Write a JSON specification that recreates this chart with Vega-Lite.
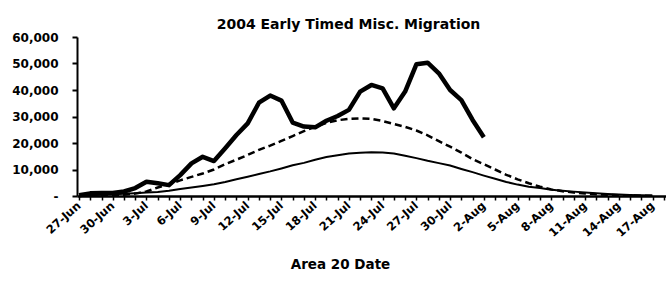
{
  "$schema": "https://vega.github.io/schema/vega-lite/v6.json",
  "width": 589,
  "height": 159,
  "autosize": {"type": "none"},
  "padding": {"left": 77, "top": 37, "right": 0, "bottom": 86},
  "background": "white",
  "config": {"view": {"stroke": null}, "font": "DejaVu Sans", "axis": {"grid": false}},
  "title": {"text": "2004 Early Timed Misc. Migration", "font": "DejaVu Sans", "fontSize": 14, "fontWeight": "bold", "color": "black", "anchor": "middle", "frame": "group", "dx": -23, "dy": 22, "baseline": "alphabetic", "offset": 10},
  "datasets": {
    "actual": [
      {"date": "2004-06-27", "fish": 300}, {"date": "2004-06-28", "fish": 1000}, {"date": "2004-06-29", "fish": 1100}, {"date": "2004-06-30", "fish": 1100},
      {"date": "2004-07-01", "fish": 1700}, {"date": "2004-07-02", "fish": 3000}, {"date": "2004-07-03", "fish": 5400}, {"date": "2004-07-04", "fish": 4800},
      {"date": "2004-07-05", "fish": 4100}, {"date": "2004-07-06", "fish": 7900}, {"date": "2004-07-07", "fish": 12300}, {"date": "2004-07-08", "fish": 14800},
      {"date": "2004-07-09", "fish": 13200}, {"date": "2004-07-10", "fish": 18000}, {"date": "2004-07-11", "fish": 23000}, {"date": "2004-07-12", "fish": 27400},
      {"date": "2004-07-13", "fish": 35200}, {"date": "2004-07-14", "fish": 37900}, {"date": "2004-07-15", "fish": 36000}, {"date": "2004-07-16", "fish": 27700},
      {"date": "2004-07-17", "fish": 26200}, {"date": "2004-07-18", "fish": 25900}, {"date": "2004-07-19", "fish": 28400}, {"date": "2004-07-20", "fish": 30200},
      {"date": "2004-07-21", "fish": 32500}, {"date": "2004-07-22", "fish": 39400}, {"date": "2004-07-23", "fish": 41900}, {"date": "2004-07-24", "fish": 40600},
      {"date": "2004-07-25", "fish": 33100}, {"date": "2004-07-26", "fish": 39400}, {"date": "2004-07-27", "fish": 49700}, {"date": "2004-07-28", "fish": 50300},
      {"date": "2004-07-29", "fish": 46300}, {"date": "2004-07-30", "fish": 40000}, {"date": "2004-07-31", "fish": 36200}, {"date": "2004-08-01", "fish": 28700},
      {"date": "2004-08-02", "fish": 22200}
    ],
    "expected": [
      {"date": "2004-06-27", "fish": 50}, {"date": "2004-06-28", "fish": 100}, {"date": "2004-06-29", "fish": 200}, {"date": "2004-06-30", "fish": 300},
      {"date": "2004-07-01", "fish": 500}, {"date": "2004-07-02", "fish": 900}, {"date": "2004-07-03", "fish": 1700}, {"date": "2004-07-04", "fish": 3200},
      {"date": "2004-07-05", "fish": 4500}, {"date": "2004-07-06", "fish": 5900}, {"date": "2004-07-07", "fish": 7200}, {"date": "2004-07-08", "fish": 8500},
      {"date": "2004-07-09", "fish": 10000}, {"date": "2004-07-10", "fish": 12000}, {"date": "2004-07-11", "fish": 13700}, {"date": "2004-07-12", "fish": 15500},
      {"date": "2004-07-13", "fish": 17400}, {"date": "2004-07-14", "fish": 19000}, {"date": "2004-07-15", "fish": 20800}, {"date": "2004-07-16", "fish": 22600},
      {"date": "2004-07-17", "fish": 24500}, {"date": "2004-07-18", "fish": 26200}, {"date": "2004-07-19", "fish": 27600}, {"date": "2004-07-20", "fish": 28600},
      {"date": "2004-07-21", "fish": 29100}, {"date": "2004-07-22", "fish": 29300}, {"date": "2004-07-23", "fish": 29100}, {"date": "2004-07-24", "fish": 28300},
      {"date": "2004-07-25", "fish": 27200}, {"date": "2004-07-26", "fish": 26100}, {"date": "2004-07-27", "fish": 24700}, {"date": "2004-07-28", "fish": 22900},
      {"date": "2004-07-29", "fish": 20700}, {"date": "2004-07-30", "fish": 18600}, {"date": "2004-07-31", "fish": 16400}, {"date": "2004-08-01", "fish": 13900},
      {"date": "2004-08-02", "fish": 12000}, {"date": "2004-08-03", "fish": 10000}, {"date": "2004-08-04", "fish": 8000}, {"date": "2004-08-05", "fish": 6300},
      {"date": "2004-08-06", "fish": 4800}, {"date": "2004-08-07", "fish": 3500}, {"date": "2004-08-08", "fish": 2500}, {"date": "2004-08-09", "fish": 1800},
      {"date": "2004-08-10", "fish": 1300}, {"date": "2004-08-11", "fish": 950}, {"date": "2004-08-12", "fish": 650}, {"date": "2004-08-13", "fish": 450},
      {"date": "2004-08-14", "fish": 300}, {"date": "2004-08-15", "fish": 180}, {"date": "2004-08-16", "fish": 100}, {"date": "2004-08-17", "fish": 50}
    ],
    "lower": [
      {"date": "2004-06-27", "fish": 100}, {"date": "2004-06-28", "fish": 300}, {"date": "2004-06-29", "fish": 500}, {"date": "2004-06-30", "fish": 700},
      {"date": "2004-07-01", "fish": 850}, {"date": "2004-07-02", "fish": 1050}, {"date": "2004-07-03", "fish": 1300}, {"date": "2004-07-04", "fish": 1550},
      {"date": "2004-07-05", "fish": 1950}, {"date": "2004-07-06", "fish": 2600}, {"date": "2004-07-07", "fish": 3200}, {"date": "2004-07-08", "fish": 3800},
      {"date": "2004-07-09", "fish": 4400}, {"date": "2004-07-10", "fish": 5300}, {"date": "2004-07-11", "fish": 6300}, {"date": "2004-07-12", "fish": 7300},
      {"date": "2004-07-13", "fish": 8300}, {"date": "2004-07-14", "fish": 9300}, {"date": "2004-07-15", "fish": 10400}, {"date": "2004-07-16", "fish": 11600},
      {"date": "2004-07-17", "fish": 12500}, {"date": "2004-07-18", "fish": 13700}, {"date": "2004-07-19", "fish": 14700}, {"date": "2004-07-20", "fish": 15400},
      {"date": "2004-07-21", "fish": 16000}, {"date": "2004-07-22", "fish": 16300}, {"date": "2004-07-23", "fish": 16500}, {"date": "2004-07-24", "fish": 16400},
      {"date": "2004-07-25", "fish": 16000}, {"date": "2004-07-26", "fish": 15200}, {"date": "2004-07-27", "fish": 14300}, {"date": "2004-07-28", "fish": 13300},
      {"date": "2004-07-29", "fish": 12400}, {"date": "2004-07-30", "fish": 11500}, {"date": "2004-07-31", "fish": 10200}, {"date": "2004-08-01", "fish": 9000},
      {"date": "2004-08-02", "fish": 7700}, {"date": "2004-08-03", "fish": 6500}, {"date": "2004-08-04", "fish": 5300}, {"date": "2004-08-05", "fish": 4300},
      {"date": "2004-08-06", "fish": 3500}, {"date": "2004-08-07", "fish": 3000}, {"date": "2004-08-08", "fish": 2400}, {"date": "2004-08-09", "fish": 2000},
      {"date": "2004-08-10", "fish": 1650}, {"date": "2004-08-11", "fish": 1300}, {"date": "2004-08-12", "fish": 1000}, {"date": "2004-08-13", "fish": 750},
      {"date": "2004-08-14", "fish": 550}, {"date": "2004-08-15", "fish": 400}, {"date": "2004-08-16", "fish": 250}, {"date": "2004-08-17", "fish": 150}
    ]
  },
  "encoding": {
    "x": {
      "field": "date", "type": "temporal",
      "scale": {"type": "utc", "domain": [{"year": 2004, "month": 6, "date": 26, "hours": 19, "minutes": 40, "utc": true}, {"year": 2004, "month": 8, "date": 18, "hours": 4, "minutes": 48, "utc": true}]},
      "axis": {
        "orient": "bottom",
        "tickCount": {"interval": "day", "step": 1},
        "labelExpr": "(round((datum.value - utc(2004,5,27))/86400000) % 3 == 0) ? utcFormat(datum.value, '%-d-%b') : ''",
        "labelAngle": -42, "labelAlign": "right", "labelBaseline": "middle", "labelPadding": 4,
        "labelFont": "DejaVu Sans", "labelFontSize": 11.5, "labelFontWeight": "bold", "labelColor": "black",
        "labelOverlap": false, "labelFlush": false,
        "tickSize": 4, "tickWidth": 1.5, "tickColor": "black",
        "domainColor": "black", "domainWidth": 2.5,
        "title": "Area 20 Date", "titleFont": "DejaVu Sans", "titleFontSize": 13.5, "titleFontWeight": "bold", "titleColor": "black",
        "titleX": 263, "titleY": 72, "titleBaseline": "alphabetic", "titleAlign": "center"
      }
    },
    "y": {
      "field": "fish", "type": "quantitative",
      "scale": {"domain": [0, 60000], "nice": false},
      "axis": {
        "values": [0, 10000, 20000, 30000, 40000, 50000, 60000],
        "labelExpr": "datum.value == 0 ? '-\u00a0\u00a0\u00a0\u00a0' : format(datum.value, ',')",
        "labelFont": "DejaVu Sans", "labelFontSize": 12, "labelFontWeight": "bold", "labelColor": "black",
        "labelPadding": 14,
        "tickSize": 5, "tickWidth": 2, "tickColor": "black",
        "domainColor": "black", "domainWidth": 2,
        "title": null
      }
    }
  },
  "layer": [
    {"mark": {"type": "rule", "color": "black", "strokeWidth": 2}, "encoding": {"x": null, "y": {"datum": 60000}}},
    {"data": {"name": "lower"}, "mark": {"type": "line", "color": "black", "strokeWidth": 2, "strokeJoin": "round"}},
    {"data": {"name": "expected"}, "mark": {"type": "line", "color": "black", "strokeWidth": 2.5, "strokeDash": [7, 4]}},
    {"data": {"name": "actual"}, "mark": {"type": "line", "color": "black", "strokeWidth": 4.5, "strokeJoin": "round"}}
  ]
}
